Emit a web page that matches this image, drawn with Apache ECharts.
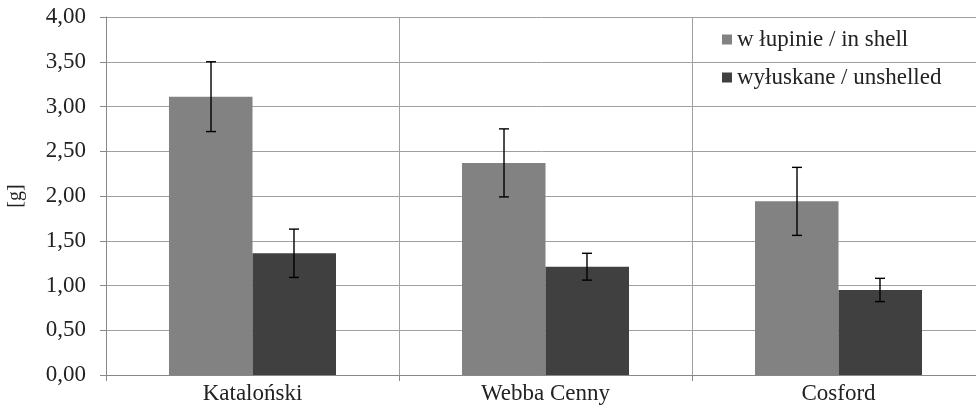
<!DOCTYPE html>
<html>
<head>
<meta charset="utf-8">
<script src="https://cdn.jsdelivr.net/npm/echarts@6/dist/echarts.min.js"></script>
<style>
html, body { margin: 0; padding: 0; background: #fff; }
#chart { width: 976px; height: 414px; }
</style>
</head>
<body>
<div id="chart"></div>
<script>
const categories = ['Kataloński', 'Webba Cenny', 'Cosford'];
const seriesNames = ['w łupinie / in shell', 'wyłuskane / unshelled'];
const inShell = [3.11, 2.37, 1.94];
const inShellErr = [0.39, 0.38, 0.38];
const unshelled = [1.36, 1.21, 0.95];
const unshelledErr = [0.27, 0.15, 0.13];

const FONT = '"Liberation Serif", "DejaVu Serif", serif';

function errData(vals, errs) {
  return vals.map((v, i) => [i, v - errs[i], v + errs[i]]);
}

function errSeries(name, vals, errs, side) {
  return {
    type: 'custom',
    name: name + ' err',
    data: errData(vals, errs),
    z: 10,
    silent: true,
    renderItem: (params, api) => {
      const band = api.size([1, 0])[0];
      const off = band * 0.1416 * side;
      const lo = api.coord([api.value(0), api.value(1)]);
      const hi = api.coord([api.value(0), api.value(2)]);
      const x = lo[0] + off;
      const cap = 5;
      const style = { stroke: '#000', lineWidth: 1.4 };
      return {
        type: 'group',
        children: [
          { type: 'line', shape: { x1: x, y1: lo[1], x2: x, y2: hi[1] }, style },
          { type: 'line', shape: { x1: x - cap, y1: lo[1], x2: x + cap, y2: lo[1] }, style },
          { type: 'line', shape: { x1: x - cap, y1: hi[1], x2: x + cap, y2: hi[1] }, style }
        ]
      };
    }
  };
}

const option = {
  animation: false,
  backgroundColor: '#fff',
  textStyle: { fontFamily: FONT },
  grid: { left: 106, top: 17, width: 879, height: 358, containLabel: false, outerBoundsMode: 'none' },
  legend: {
    data: seriesNames,
    orient: 'vertical',
    left: 717,
    top: 23,
    itemWidth: 10,
    itemHeight: 10,
    itemGap: 15,
    icon: 'rect',
    textStyle: { fontFamily: FONT, fontSize: 23, color: '#222' }
  },
  xAxis: {
    type: 'category',
    data: categories,
    axisLine: { lineStyle: { color: '#888', width: 1 } },
    axisTick: { show: true, interval: 0, length: 6, lineStyle: { color: '#888' } },
    axisLabel: { fontFamily: FONT, fontSize: 23, color: '#222', margin: 7 },
    splitLine: { show: true, interval: 0, lineStyle: { color: '#a0a0a0', width: 1 } }
  },
  yAxis: {
    type: 'value',
    min: 0,
    max: 4,
    interval: 0.5,
    name: '[g]',
    nameLocation: 'middle',
    nameRotate: 90,
    nameGap: 80,
    nameTextStyle: { fontFamily: FONT, fontSize: 20, color: '#222' },
    axisLine: { show: true, lineStyle: { color: '#888', width: 1 } },
    axisTick: { show: true, length: 6, lineStyle: { color: '#888' } },
    axisLabel: {
      fontFamily: FONT, fontSize: 23, color: '#222', margin: 20,
      formatter: v => v.toFixed(2).replace('.', ',')
    },
    splitLine: { show: true, lineStyle: { color: '#a0a0a0', width: 1 } }
  },
  series: [
    {
      type: 'bar',
      name: seriesNames[0],
      data: inShell,
      barGap: '0%',
      barCategoryGap: '43%',
      itemStyle: { color: '#828282' }
    },
    {
      type: 'bar',
      name: seriesNames[1],
      data: unshelled,
      barGap: '0%',
      barCategoryGap: '43%',
      itemStyle: { color: '#404040' }
    },
    errSeries(seriesNames[0], inShell, inShellErr, -1),
    errSeries(seriesNames[1], unshelled, unshelledErr, 1)
  ]
};

const chart = echarts.init(document.getElementById('chart'));
chart.setOption(option);
window.addEventListener('resize', () => chart.resize());
</script>
</body>
</html>
